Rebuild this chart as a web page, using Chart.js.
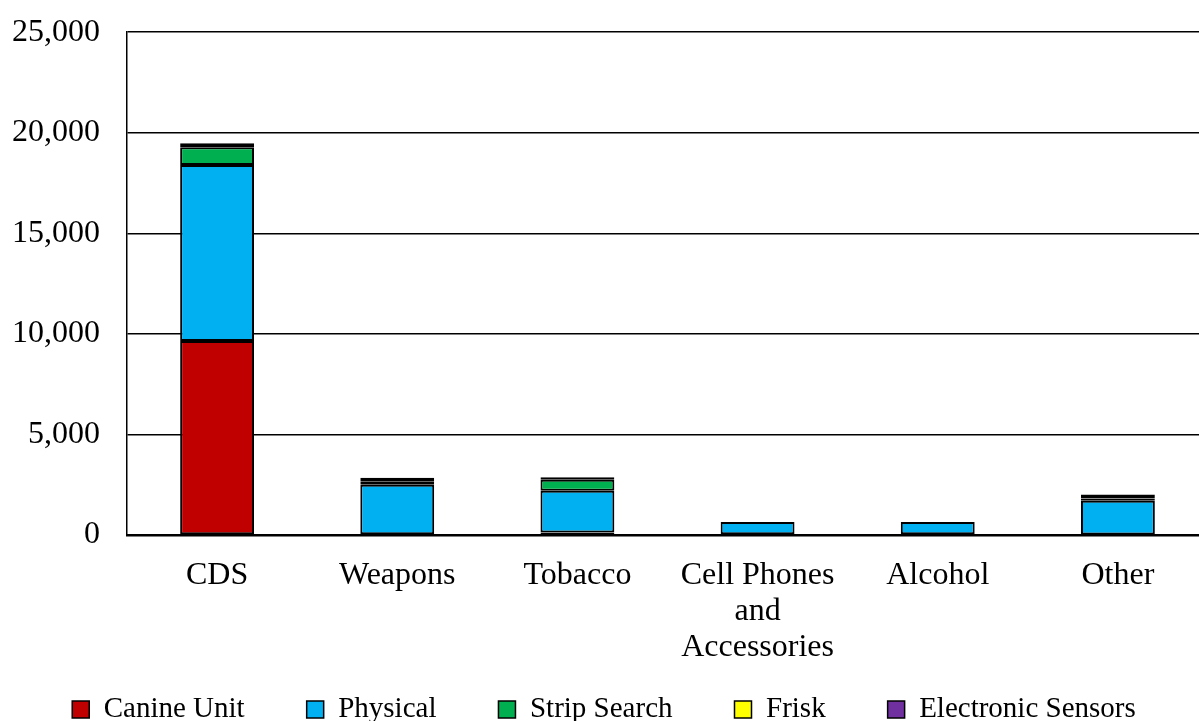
<!DOCTYPE html>
<html>
<head>
<meta charset="utf-8">
<script src="https://cdn.jsdelivr.net/npm/chart.js@4/dist/chart.umd.min.js"></script>
<style>
    html, body { margin: 0; padding: 0; background: #fff; overflow: hidden; }
    #wrap { width: 1208px; height: 748px; margin-top: -14px; }
</style>
</head>
<body>
<div id="wrap"><canvas id="searchChart"></canvas></div>
<script>
const categories = ["CDS", "Weapons", "Tobacco", ["Cell Phones", "and", "Accessories"], "Alcohol", "Other"];
const canineUnit = [9650, 0, 120, 0, 40, 30];
const physical = [8750, 2500, 2080, 650, 610, 1670];
const stripSearch = [880, 150, 550, 0, 0, 110];
const frisk = [200, 200, 120, 0, 0, 200];
const electronicSensors = [0, 0, 0, 0, 0, 0];
const yTicks = [0, 5000, 10000, 15000, 20000, 25000];

const fontFamily = "'Liberation Serif', 'Times New Roman', serif";

function makeSet(label, data, color) {
    return {
        label: label,
        data: data,
        backgroundColor: color,
        borderColor: "#000",
        // no outline for empty segments
        borderWidth: c => (c.raw ? 2 : 0),
        borderSkipped: false,
        barPercentage: 0.41,
        categoryPercentage: 1.0
    };
}

let ctx = document.getElementById("searchChart").getContext("2d");

new Chart(ctx, {
    type: "bar",
    data: {
        labels: categories,
        datasets: [
            makeSet("Canine Unit", canineUnit, "#C00000"),
            makeSet("Physical", physical, "#00B0F0"),
            makeSet("Strip Search", stripSearch, "#00B050"),
            makeSet("Frisk", frisk, "#FFFF00"),
            makeSet("Electronic Sensors", electronicSensors, "#7030A0")
        ]
    },
    options: {
        responsive: true,
        maintainAspectRatio: false,
        animation: false,
        layout: { padding: { top: 4, left: 0, right: 0, bottom: 0 } },
        plugins: {
            legend: {
                position: "bottom",
                labels: {
                    font: { family: fontFamily, size: 29 },
                    color: "#000",
                    boxWidth: 17,
                    boxHeight: 17,
                    padding: 62,
                    generateLabels: chart => Chart.defaults.plugins.legend.labels.generateLabels(chart)
                        .map(item => Object.assign(item, { lineWidth: 1.5 }))
                }
            },
            tooltip: { enabled: false }
        },
        scales: {
            x: {
                stacked: true,
                grid: { display: false },
                border: { color: "#000", width: 2.5 },
                afterFit: scale => {
                    scale.height = 98;
                    // let the three-line label run past the axis box
                    scale._computeLabelArea = () => undefined;
                },
                ticks: {
                    font: { family: fontFamily, size: 32, lineHeight: 1.12 },
                    color: "#000",
                    maxRotation: 0,
                    autoSkip: false,
                    padding: 15
                }
            },
            y: {
                stacked: true,
                min: 0,
                max: 25000,
                afterBuildTicks: axis => { axis.ticks = yTicks.map(v => ({ value: v })); },
                afterFit: scale => { scale.width = 127; },
                grid: { color: "#000", lineWidth: 1.5, drawTicks: false },
                border: { color: "#000", width: 1.5 },
                ticks: {
                    font: { family: fontFamily, size: 32 },
                    color: "#000",
                    padding: 27,
                    callback: v => v.toLocaleString("en-US")
                }
            }
        }
    }
});
</script>
</body>
</html>
